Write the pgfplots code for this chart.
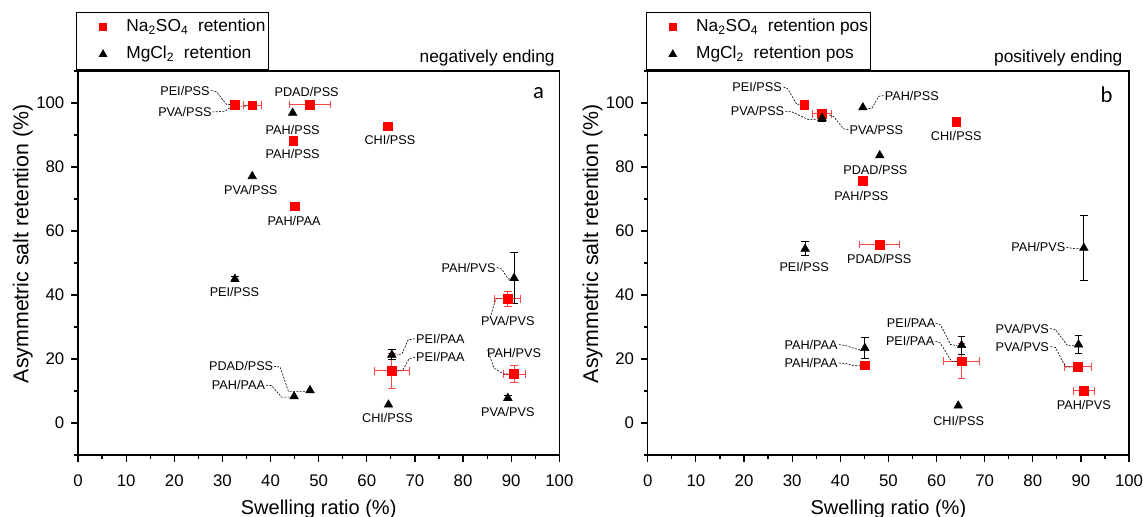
\documentclass[border=0pt]{standalone}
\usepackage{fontspec}
\setmainfont{Liberation Sans}
\newfontfamily\calfont{Carlito}
\usepackage{pgfplots}
\pgfplotsset{compat=1.18}
\definecolor{nred}{RGB}{255,0,0}
\definecolor{ebred}{RGB}{255,70,70}
\tikzset{
  lab/.style={font=\fontsize{9.5}{11}\selectfont, inner sep=0pt, text height=6.8pt, text depth=0pt},
  ld/.style={dash pattern=on 1.5pt off 1pt, line width=0.45pt},
}
\pgfplotsset{
  myax/.style={
    scale only axis, width=361pt, height=288pt, anchor=south west,
    xmin=0, xmax=100, ymin=-10, ymax=110,
    xtick={0,10,...,100}, minor xtick={5,15,...,95},
    ytick={0,20,...,100}, minor ytick={-10,10,...,110},
    tick pos=left, tick align=outside,
    major tick length=5.25pt, minor tick length=3pt,
    axis line style={line width=0.9pt},
    every tick/.append style={black, line width=0.9pt},
    xlabel={Swelling ratio (\%)},
    ylabel={Asymmetric salt retention (\%)},
    every axis x label/.style={at={(axis description cs:0.5,0)}, anchor=center, yshift=-40.5pt, font=\fontsize{15}{18}\selectfont},
    every axis y label/.style={at={(axis description cs:-0.1143,0.550)}, rotate=90, anchor=center, font=\fontsize{16}{19}\selectfont},
    ticklabel style={font=\fontsize{12.6}{15}\selectfont},
    xticklabel style={yshift=-6pt},
    yticklabel style={xshift=-1.5pt},
    /pgf/number format/assume math mode=true,
    clip=false,
    legend cell align=left,
    legend style={at={(axis description cs:0,1)}, anchor=south west, xshift=-1.5pt, yshift=1pt,
      draw=black, line width=0.6pt, inner xsep=2pt, inner ysep=4.75pt, row sep=7.25pt,
      font=\fontsize{13}{15}\selectfont,
      nodes={inner sep=0pt, text height=9.5pt, text depth=3.5pt},
      /tikz/column 1/.style={column sep=5.5pt}},
    legend image code/.code={\path[draw=none, fill=none] (0pt,0pt) -- (30pt,0pt); \draw[##1] plot coordinates {(18pt,0pt)};},
    sqm/.style={forget plot, only marks, mark=square*, mark size=3.25pt, nred, mark options={fill=nred, draw=nred}},
    trm/.style={forget plot, only marks, mark=triangle*, mark size=3.7pt, black, mark options={fill=black}},
    rederr/.style={sqm, error bars/.cd, x dir=both, x explicit, y dir=both, y explicit,
      error bar style={ebred, line width=0.75pt}, error mark options={rotate=90, ebred, mark size=2.9pt, line width=0.75pt}},
    blkerr/.style={trm, error bars/.cd, y dir=both, y explicit,
      error bar style={black, line width=0.75pt}, error mark options={rotate=90, black, mark size=2.9pt, line width=0.75pt}},
  }
}
\begin{document}
\begin{tikzpicture}
\useasboundingbox (0,0) rectangle (857.25pt,387.75pt);
% ---------------- panel a ----------------
\begin{axis}[myax, at={(58.5pt,46.5pt)}]
\addlegendimage{only marks, mark=square*, mark size=2.6pt, nred, mark options={fill=nred}}
\addlegendentry{Na\textsubscript{2}SO\textsubscript{4}\ \ retention}
\addlegendimage{only marks, mark=triangle*, mark size=3.2pt, black, mark options={fill=black}}
\addlegendentry{MgCl\textsubscript{2}\ \ retention}
% Na2SO4 with error bars
\addplot[rederr] coordinates {
(36.2,99.3) +- (1.9,0)
(48.2,99.5) +- (4.2,0)
(89.3,38.8) +- (2.7,2.4)
(65.2,16.3) +- (3.6,5.5)
(90.6,15.3) +- (2.3,2.8)
};
% Na2SO4 without error bars
\addplot[sqm] coordinates {
(32.6,99.5) (44.7,88.2) (64.3,92.7) (45.1,67.7)
};
% MgCl2 with error bars
\addplot[blkerr] coordinates {
(90.6,45.3) +- (0,8.1)
(65.2,21.3) +- (0,1.6)
(89.3,7.8) +- (0,0.9)
(32.6,45.0) +- (0,0.8)
};
% MgCl2 without error bars
\addplot[trm] coordinates {
(44.6,96.9) (36.2,77.1) (48.2,10.2) (44.9,8.3) (64.5,5.7)
};
\node[anchor=base east, yshift=6.4pt, font=\fontsize{13}{15}\selectfont] at (rel axis cs:1,1) {negatively ending};
\node[font=\calfont\fontsize{17}{20}\selectfont] at (axis cs:95.7,103) {a};
\node[lab, anchor=east] at (axis cs:27.4,103.9) {PEI/PSS};
\node[lab, anchor=east] at (axis cs:27.8,97.2) {PVA/PSS};
\node[lab] at (axis cs:47.5,103.6) {PDAD/PSS};
\node[lab] at (axis cs:44.6,91.7) {PAH/PSS};
\node[lab] at (axis cs:44.6,84.2) {PAH/PSS};
\node[lab] at (axis cs:64.8,88.3) {CHI/PSS};
\node[lab] at (axis cs:35.9,72.9) {PVA/PSS};
\node[lab] at (axis cs:44.9,63.0) {PAH/PAA};
\node[lab] at (axis cs:32.5,40.9) {PEI/PSS};
\node[lab, anchor=east] at (axis cs:86.8,48.6) {PAH/PVS};
\node[lab] at (axis cs:89.3,32.0) {PVA/PVS};
\node[lab, anchor=west] at (axis cs:70.2,26.3) {PEI/PAA};
\node[lab, anchor=west] at (axis cs:70.2,20.5) {PEI/PAA};
\node[lab] at (axis cs:90.6,21.9) {PAH/PVS};
\node[lab, anchor=east] at (axis cs:40.6,17.7) {PDAD/PSS};
\node[lab, anchor=east] at (axis cs:38.9,11.8) {PAH/PAA};
\node[lab] at (axis cs:64.3,1.6) {CHI/PSS};
\node[lab] at (axis cs:89.3,3.4) {PVA/PVS};
\draw[ld] (axis cs:27.7,103.9)--(axis cs:28.8,103.5)--(axis cs:30.8,99.6)--(axis cs:31.7,99.5);
\draw[ld] (axis cs:27.9,97.2)--(axis cs:30.5,97.4)--(axis cs:31.9,98.9)--(axis cs:35.3,99.1);
\draw[ld] (axis cs:87.0,48.6)--(axis cs:88.0,48.1)--(axis cs:89.4,45.0)--(axis cs:90.0,45.0);
\draw[ld] (axis cs:85.6,32.8)--(axis cs:86.8,38.8)--(axis cs:88.3,38.8);
\draw[ld] (axis cs:70.0,26.3)--(axis cs:68.6,26.0)--(axis cs:67.3,21.6)--(axis cs:66.2,21.3);
\draw[ld] (axis cs:70.0,20.5)--(axis cs:68.8,20.1)--(axis cs:67.4,16.3)--(axis cs:66.2,16.3);
\draw[ld] (axis cs:85.1,22.9)--(axis cs:86.4,17.2)--(axis cs:88.4,15.3)--(axis cs:89.8,15.3);
\draw[ld] (axis cs:40.7,17.7)--(axis cs:42.0,17.5)--(axis cs:43.7,9.9)--(axis cs:47.2,9.9);
\draw[ld] (axis cs:39.1,11.8)--(axis cs:40.2,11.7)--(axis cs:42.3,8.1)--(axis cs:44.4,8.1);
\end{axis}
% ---------------- panel b ----------------
\begin{axis}[myax, at={(485.8pt,46.5pt)}]
\addlegendimage{only marks, mark=square*, mark size=2.6pt, nred, mark options={fill=nred}}
\addlegendentry{Na\textsubscript{2}SO\textsubscript{4}\ \ retention pos}
\addlegendimage{only marks, mark=triangle*, mark size=3.2pt, black, mark options={fill=black}}
\addlegendentry{MgCl\textsubscript{2}\ \ retention pos}
% Na2SO4 with error bars
\addplot[rederr] coordinates {
(36.2,96.6) +- (1.9,0)
(48.2,55.8) +- (4.2,0)
(65.2,19.3) +- (3.7,5.4)
(89.3,17.5) +- (2.8,0)
(90.6,10.1) +- (2.2,0)
};
% Na2SO4 without error bars
\addplot[sqm] coordinates {
(32.5,99.5) (44.7,75.8) (64.1,94.2) (45.1,18.0)
};
% MgCl2 with error bars
\addplot[blkerr] coordinates {
(32.7,54.4) +- (0,2.2)
(36.2,95.3) +- (0,1.0)
(90.6,54.7) +- (0,10.1)
(45.1,23.4) +- (0,3.4)
(65.2,24.3) +- (0,2.8)
(89.5,24.5) +- (0,2.7)
};
% MgCl2 without error bars
\addplot[trm] coordinates {
(44.7,98.6) (48.2,83.6) (64.5,5.4)
};
\node[anchor=base east, yshift=6.4pt, xshift=-1.5pt, font=\fontsize{13}{15}\selectfont] at (rel axis cs:1,1) {positively ending};
\node[font=\calfont\fontsize{17}{20}\selectfont] at (axis cs:95.3,102.5) {b};
\node[lab, anchor=east] at (axis cs:27.9,105.0) {PEI/PSS};
\node[lab, anchor=east] at (axis cs:28.4,97.4) {PVA/PSS};
\node[lab, anchor=west] at (axis cs:41.9,91.7) {PVA/PSS};
\node[lab, anchor=west] at (axis cs:49.2,102.3) {PAH/PSS};
\node[lab] at (axis cs:64.1,89.8) {CHI/PSS};
\node[lab] at (axis cs:47.3,79.2) {PDAD/PSS};
\node[lab] at (axis cs:44.4,71.1) {PAH/PSS};
\node[lab] at (axis cs:32.5,48.8) {PEI/PSS};
\node[lab] at (axis cs:48.1,51.3) {PDAD/PSS};
\node[lab, anchor=east] at (axis cs:86.8,54.9) {PAH/PVS};
\node[lab, anchor=east] at (axis cs:39.5,24.5) {PAH/PAA};
\node[lab, anchor=east] at (axis cs:39.5,18.8) {PAH/PAA};
\node[lab, anchor=east] at (axis cs:59.8,31.25) {PEI/PAA};
\node[lab, anchor=east] at (axis cs:59.6,25.5) {PEI/PAA};
\node[lab, anchor=east] at (axis cs:83.4,29.5) {PVA/PVS};
\node[lab, anchor=east] at (axis cs:83.4,23.9) {PVA/PVS};
\node[lab] at (axis cs:64.6,0.5) {CHI/PSS};
\node[lab] at (axis cs:90.6,5.7) {PAH/PVS};
\draw[ld] (axis cs:28.2,105)--(axis cs:29.1,104.4)--(axis cs:31.0,99.5)--(axis cs:31.7,99.5);
\draw[ld] (axis cs:28.6,97.4)--(axis cs:30.0,97.2)--(axis cs:33.4,94.8)--(axis cs:35.2,94.8);
\draw[ld] (axis cs:41.7,91.7)--(axis cs:40.7,91.9)--(axis cs:38.6,95.8)--(axis cs:37.6,96.3);
\draw[ld] (axis cs:49.0,102.3)--(axis cs:48.0,102.1)--(axis cs:46.6,98.4)--(axis cs:45.6,98.2);
\draw[ld] (axis cs:87.0,54.9)--(axis cs:88.6,54.5)--(axis cs:89.8,54.5);
\draw[ld] (axis cs:39.7,24.5)--(axis cs:41.1,24.2)--(axis cs:43.8,22.9)--(axis cs:44.5,22.9);
\draw[ld] (axis cs:39.7,18.8)--(axis cs:41.4,18.5)--(axis cs:42.8,17.9)--(axis cs:44.2,17.9);
\draw[ld] (axis cs:59.8,31.25)--(axis cs:60.8,30.7)--(axis cs:62.9,24.5)--(axis cs:64.3,24.2);
\draw[ld] (axis cs:59.8,25.5)--(axis cs:60.8,25.0)--(axis cs:63.1,19.25)--(axis cs:64.3,19.25);
\draw[ld] (axis cs:83.6,29.5)--(axis cs:84.7,29.2)--(axis cs:87.2,24.2)--(axis cs:88.6,24.2);
\draw[ld] (axis cs:83.7,23.9)--(axis cs:84.7,23.6)--(axis cs:86.8,17.5)--(axis cs:88.2,17.5);
\end{axis}
\end{tikzpicture}
\end{document}
